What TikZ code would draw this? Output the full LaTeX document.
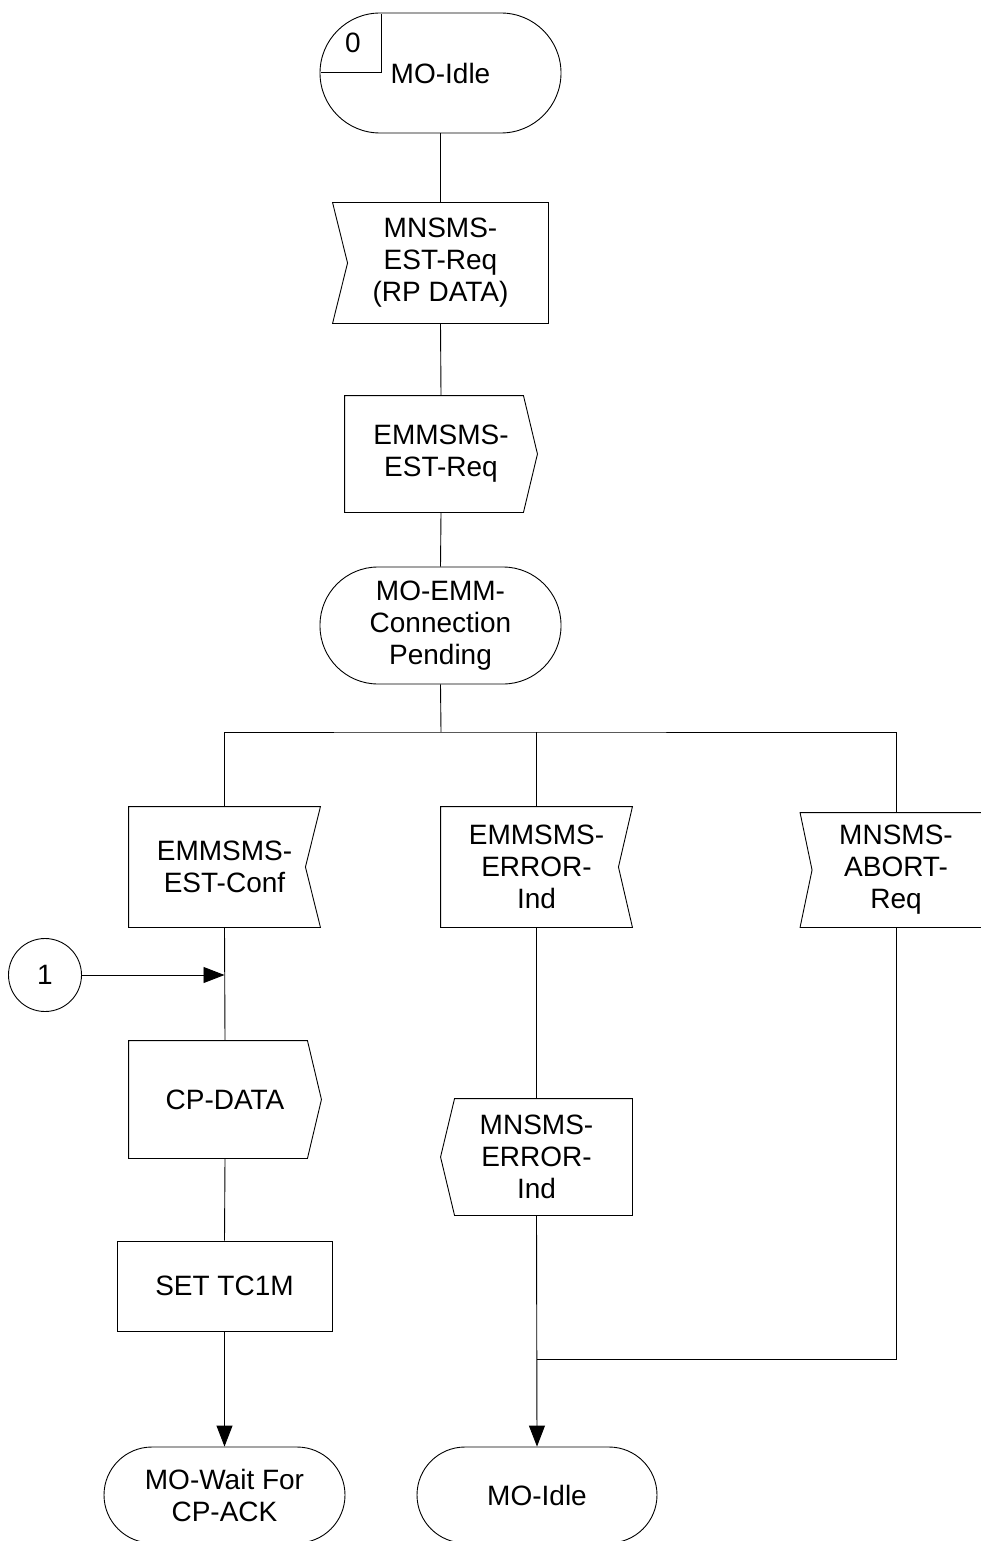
\documentclass[tikz,border=0pt]{standalone}
\usepackage{fontspec}
\setmainfont{Liberation Sans}
\usetikzlibrary{arrows.meta}
\newcommand{\SigNotchL}[2]{\draw (#1.north west) -- (#1.north east) -- (#1.south east) -- (#1.south west) -- ([xshift=#2]#1.west) -- cycle;}
\newcommand{\SigNotchR}[2]{\draw (#1.north west) -- (#1.north east) -- ([xshift=-#2]#1.east) -- (#1.south east) -- (#1.south west) -- cycle;}
\newcommand{\SigPointR}[2]{\draw (#1.north west) -- ([xshift=-#2]#1.north east) -- (#1.east) -- ([xshift=-#2]#1.south east) -- (#1.south west) -- cycle;}
\newcommand{\SigPointL}[2]{\draw ([xshift=#2]#1.north west) -- (#1.north east) -- (#1.south east) -- ([xshift=#2]#1.south west) -- (#1.west) -- cycle;}
\tikzset{
  base/.style={rectangle, inner sep=0pt, align=center, font=\fontsize{28}{32}\selectfont},
  statebox/.style={base, draw, minimum width=241pt, minimum height=120pt, rounded corners=60pt},
  sigbox/.style={base, draw=none},
  taskbox/.style={base, draw, minimum width=215pt, minimum height=90pt},
  conn/.style={draw, circle, inner sep=0pt, minimum size=73pt, font=\fontsize{28}{32}\selectfont},
  arr/.style={-{Triangle[length=21pt,width=16pt]}}
}
\begin{document}
\begin{tikzpicture}[x=1pt,y=-1pt,line width=0.9pt]
\clip (0,0) rectangle (981,1541);
\fill[white] (0,0) rectangle (981,1541);

% top state
\node[statebox] (s0) at (440.5,73) {MO-Idle};
\draw (381,14) -- (381,72) -- (321,72);
\node[base] (n0) at (353,43) {0};

\node[sigbox, minimum width=215pt, minimum height=120pt] (i1) at (440.5,263) {MNSMS-\\EST-Req\\(RP DATA)};
\SigNotchL{i1}{15pt}

\node[sigbox, minimum width=192pt, minimum height=116pt] (o1) at (441,454) {EMMSMS-\\EST-Req};
\SigPointR{o1}{14pt}

\node[statebox, minimum height=117pt, rounded corners=58pt] (s1) at (440.5,625.5) {MO-EMM-\\Connection\\Pending};

\coordinate (j) at (441,732);

\node[sigbox, minimum width=191pt, minimum height=120pt] (i2) at (224.5,867) {EMMSMS-\\EST-Conf};
\SigNotchR{i2}{15pt}

\node[sigbox, minimum width=191pt, minimum height=120pt] (i3) at (536.5,867) {EMMSMS-\\ERROR-\\Ind};
\SigNotchR{i3}{14pt}

\node[sigbox, minimum width=191pt, minimum height=114pt] (i4) at (896,870) {MNSMS-\\ABORT-\\Req};
\SigNotchL{i4}{12pt}

\node[conn] (c1) at (45,975) {1};

\node[sigbox, minimum width=192pt, minimum height=117pt] (o2) at (225,1099.5) {CP-DATA};
\SigPointR{o2}{14pt}

\node[taskbox] (t1) at (224.5,1286) {SET TC1M};

\node[statebox, minimum height=96pt, rounded corners=48pt] (s2) at (224.5,1495) {MO-Wait For\\CP-ACK};

\node[sigbox, minimum width=191pt, minimum height=116pt] (o3) at (536.5,1157) {MNSMS-\\ERROR-\\Ind};
\SigPointL{o3}{14pt}

\node[statebox, minimum width=240pt, minimum height=96pt, rounded corners=48pt] (s3) at (537,1495) {MO-Idle};

% connectors
\draw (s0.south) -- (i1.north);
\draw (i1.south) -- (o1.north);
\draw (o1.south) -- (s1.north);
\draw (s1.south) -- (j);
\draw (i2.north) |- (j) -| (i4.north);
\draw (i3.north) -- (i3.north |- j);
\draw (i2.south) -- (o2.north);
\draw[arr] (c1.east) -- (c1.east -| i2.south);
\draw (o2.south) -- (t1.north);
\draw[arr] (t1.south) -- (s2.north);
\draw (i3.south) -- (o3.north);
\draw[arr] (o3.south) -- (s3.north);
\coordinate (m) at (896,1359);
\draw (i4.south) -- (m) -- (m -| s3.north);
\end{tikzpicture}
\end{document}
